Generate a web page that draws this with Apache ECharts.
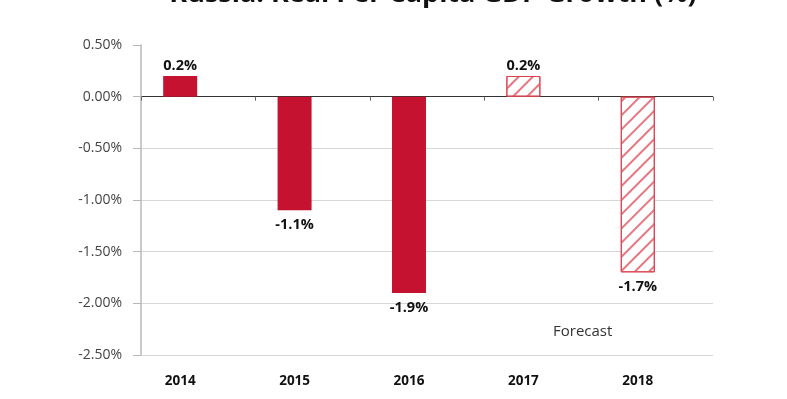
<!DOCTYPE html>
<html>
<head>
<meta charset="utf-8">
<script src="https://cdn.jsdelivr.net/npm/echarts@6/dist/echarts.min.js"></script>
<style>html,body{margin:0;padding:0;background:#fff;}#chart{width:787px;height:399px;}</style>
</head>
<body>
<div id="chart"></div>
<script>
var titleText = "Russia: Real Per Capita GDP Growth (%)";
var categories = ["2014", "2015", "2016", "2017", "2018"];
var actualValues = [0.2, -1.1, -1.9, null, null];
var forecastValues = [null, null, null, 0.2, -1.7];
var yTicks = { min: -2.5, max: 0.5, interval: 0.5 };
var forecastNote = "Forecast";

var solidColor = "#c41230";
var hatchLine = "#e67680";

function toItems(arr) {
  return arr.map(function (v) {
    if (v === null) return null;
    return { value: v, label: { position: v >= 0 ? "top" : "bottom", distance: v >= 0 ? 3 : 7 } };
  });
}

var chart = echarts.init(document.getElementById("chart"));
var labelStyle = {
  show: true,
  formatter: function (p) { return p.value + "%"; },
  color: "#111",
  fontWeight: "bold",
  fontSize: 14.5,
  fontFamily: "Open Sans"
};
chart.setOption({
  animation: false,
  backgroundColor: "#fff",
  title: {
    text: titleText,
    left: 428,
    textAlign: "center",
    top: -24.5,
    textStyle: { fontSize: 27, fontWeight: "bold", color: "#111", fontFamily: "Open Sans" }
  },
  grid: { left: 141, right: 74, top: 45, bottom: 44 },
  xAxis: [{
    type: "category",
    data: categories,
    position: "bottom",
    axisLine: { show: false, onZero: false },
    axisTick: { show: false },
    axisLabel: {
      color: "#111", fontWeight: "bold", fontSize: 13.5, fontFamily: "Open Sans",
      margin: 19, padding: [0, 36, 0, 0]
    },
    splitLine: { show: false }
  }, {
    type: "category",
    data: categories,
    position: "top",
    axisLine: { show: false, onZero: true },
    axisTick: { show: true, inside: true, length: 4, lineStyle: { color: "#666" } },
    axisLabel: { show: false },
    splitLine: { show: false }
  }],
  yAxis: {
    type: "value",
    min: yTicks.min, max: yTicks.max, interval: yTicks.interval,
    axisLine: { show: true, lineStyle: { color: "#b8b8b8", width: 1.5 } },
    axisTick: { show: true, length: 8, lineStyle: { color: "#b8b8b8" } },
    axisLabel: {
      margin: 19, color: "#444", fontSize: 14, fontFamily: "Open Sans",
      formatter: function (v) { return v.toFixed(2) + "%"; }
    },
    splitLine: {
      show: true,
      lineStyle: {
        color: ["#d6d6d6", "#d6d6d6", "#d6d6d6", "#d6d6d6", "#d6d6d6", "#333333", "rgba(0,0,0,0)"],
        width: 1
      }
    }
  },
  series: [{
    name: "Actual",
    type: "bar",
    stack: "g",
    barWidth: 34,
    xAxisIndex: 0,
    data: toItems(actualValues),
    itemStyle: { color: solidColor },
    label: labelStyle,
    z: 3
  }, {
    name: "Forecast",
    type: "bar",
    stack: "g",
    barWidth: 34,
    xAxisIndex: 0,
    data: toItems(forecastValues),
    itemStyle: {
      color: "#ffffff",
      borderColor: "#d8404e",
      borderWidth: 1,
      decal: {
        symbol: "rect",
        symbolSize: 1,
        color: hatchLine,
        dashArrayX: [1, 0],
        dashArrayY: [1.2, 8],
        rotation: -Math.PI / 4
      }
    },
    label: labelStyle,
    z: 3
  }, {
    name: "spacer",
    type: "bar",
    barWidth: 34,
    barGap: "6%",
    xAxisIndex: 0,
    data: categories.map(function () { return null; }),
    silent: true
  }],
  graphic: [{
    type: "text",
    left: 553,
    top: 324,
    style: { text: forecastNote, fill: "#333", fontSize: 15, fontFamily: "Open Sans" }
  }]
});
</script>
</body>
</html>
